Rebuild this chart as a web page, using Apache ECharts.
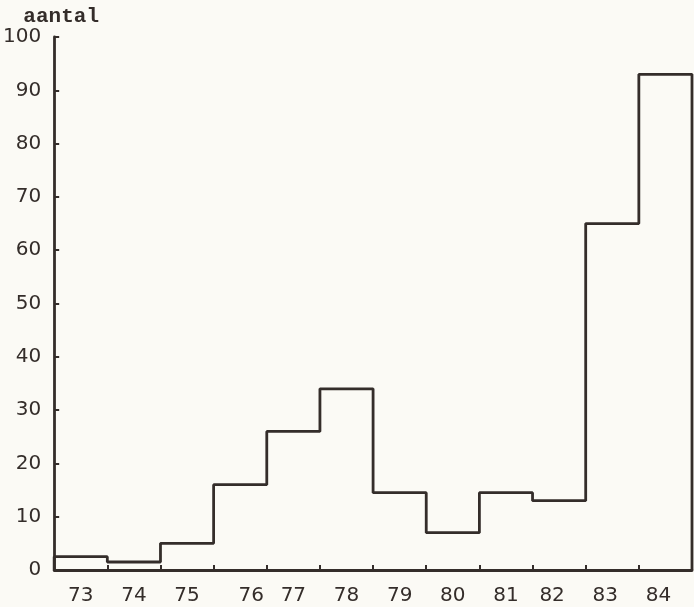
<!DOCTYPE html>
<html>
<head>
<meta charset="utf-8">
<script src="https://cdn.jsdelivr.net/npm/echarts@6/dist/echarts.min.js"></script>
<style>
html,body{margin:0;padding:0;background:#fbfaf5;}
#c{width:694px;height:607px;}
</style>
</head>
<body>
<div id="c"></div>
<script>
var years = ['73','74','75','76','77','78','79','80','81','82','83','84'];
var counts = [2.5, 1.5, 5, 16, 26, 34, 14.5, 7, 14.5, 13, 65, 93];
var yTicks = [0,10,20,30,40,50,60,70,80,90,100];

var ink = '#342d2a';
var pts = [[0,0]];
for (var i = 0; i < counts.length; i++) pts.push([i, counts[i]]);
pts.push([counts.length, counts[counts.length-1]]);
pts.push([counts.length, 0]);

// hand-lettered label nudges (styling only)
var nudgeRich = {
  base: {color: ink, fontFamily: 'DejaVu Sans', fontSize: 20},
  r: {color: ink, fontFamily: 'DejaVu Sans', fontSize: 20, padding: [0,0,0,22]},
  l: {color: ink, fontFamily: 'DejaVu Sans', fontSize: 20, padding: [0,14,0,0]}
};
function xFmt(v, idx) {
  if (idx === 3) return '{r|' + v + '}';
  if (idx >= 9) return '{l|' + v + '}';
  return '{base|' + v + '}';
}

var chart = echarts.init(document.getElementById('c'));
chart.setOption({
  backgroundColor: '#fbfaf5',
  animation: false,
  grid: {left: 54, right: 2, top: 37, bottom: 37},
  xAxis: [{
    type: 'value', min: 0, max: years.length, interval: 1,
    axisLine: {show: true, onZero: false, lineStyle: {color: ink, width: 2.8}},
    axisTick: {show: true, inside: true, length: 5, lineStyle: {color: ink, width: 2}},
    axisLabel: {show: false},
    splitLine: {show: false}
  }, {
    type: 'category', data: years, position: 'bottom',
    axisLine: {show: false}, axisTick: {show: false},
    axisLabel: {interval: 0, hideOverlap: false, margin: 16, formatter: xFmt, rich: nudgeRich},
    splitLine: {show: false}
  }],
  yAxis: {
    type: 'value', min: 0, max: 100, interval: 10,
    name: 'aantal', nameLocation: 'end', nameGap: 3,
    nameTextStyle: {color: ink, fontFamily: 'Liberation Mono', fontSize: 21, fontWeight: 'bold', align: 'center', padding: [0, 0, 0, 14]},
    axisLine: {show: true, lineStyle: {color: ink, width: 2.8}},
    axisTick: {show: true, inside: true, length: 5, lineStyle: {color: ink, width: 2}},
    axisLabel: {color: ink, fontFamily: 'DejaVu Sans', fontSize: 20, margin: 13},
    splitLine: {show: false}
  },
  series: [{
    type: 'line', xAxisIndex: 0, step: 'end', data: pts,
    symbol: 'none', lineStyle: {color: ink, width: 2.8}
  }]
});
</script>
</body>
</html>
